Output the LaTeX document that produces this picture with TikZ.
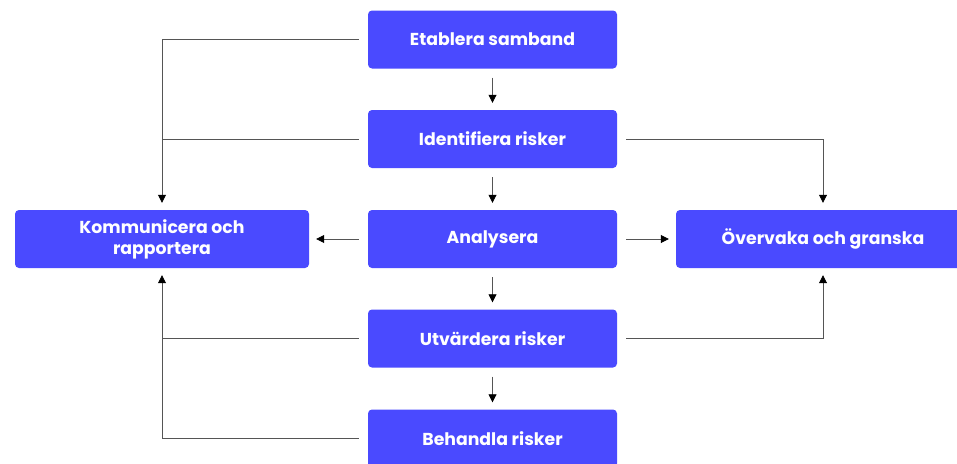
\documentclass[tikz,border=0pt]{standalone}
\usepackage{fontspec}
\setmainfont{Poppins}
\usetikzlibrary{arrows.meta}
\definecolor{stepblue}{RGB}{74,74,255}
\definecolor{linegray}{RGB}{85,85,85}
\tikzset{
  stepbox/.style={fill=stepblue, rounded corners=4pt, text=white, align=center,
    font=\fontsize{17.3}{21}\selectfont\bfseries, inner sep=0pt,
    minimum width=249pt, minimum height=58pt},
  widebox/.style={stepbox, minimum width=294pt},
  link/.style={draw=linegray, line width=0.8pt, shorten <=9pt},
  arr/.style={link, -{Triangle[color=black,width=8pt,length=8pt]}, shorten >=7pt}
}
\begin{document}
\begin{tikzpicture}[x=1pt,y=-1pt]
  \useasboundingbox (0,0) rectangle (957,463);
  \node[stepbox] (etab) at (492.5,39.5) {Etablera samband};
  \node[stepbox] (ident) at (492.5,139) {Identifiera risker};
  \node[stepbox] (anal) at (492.5,239) {Analysera};
  \node[stepbox] (utv) at (492.5,338.5) {Utvärdera risker};
  \node[stepbox] (beh) at (492.5,438.5) {Behandla risker};
  \node[widebox] (komm) at (162,239) {Kommunicera och\\rapportera};
  \node[widebox] (overv) at (823,239) {Övervaka och granska};
  % main chain
  \draw[arr] (etab) -- (ident);
  \draw[arr] (ident) -- (anal);
  \draw[arr] (anal) -- (utv);
  \draw[arr] (utv) -- (beh);
  \draw[arr] (anal) -- (komm);
  \draw[arr] (anal) -- (overv);
  % to the left
  \draw[arr] (etab.west) -| (komm.north);
  \draw[link] (ident.west) -- (ident.west -| komm.north);
  \draw[arr] (utv.west) -| (komm.south);
  \draw[link] (beh.west) -- (beh.west -| komm.south) -- (utv.west -| komm.south);
  % to the right
  \draw[arr] (ident.east) -| (overv.north);
  \draw[arr] (utv.east) -| (overv.south);
\end{tikzpicture}
\end{document}
